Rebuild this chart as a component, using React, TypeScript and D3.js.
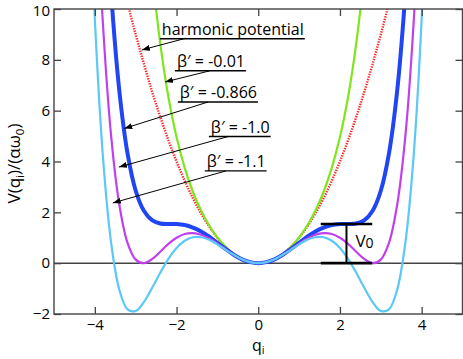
import React from 'react'
import * as d3 from 'd3'

// q grid shared by every curve
const qValues = [
  -4.2, -4, -3.8, -3.6, -3.4, -3.2, -3, -2.8, -2.6, -2.4, -2.2, -2, -1.8, -1.6, -1.4, -1.2, -1, -0.8, -0.6, -0.4, -0.2,
  0, 0.2, 0.4, 0.6, 0.8, 1, 1.2, 1.4, 1.6, 1.8, 2, 2.2, 2.4, 2.6, 2.8, 3, 3.2, 3.4, 3.6, 3.8, 4, 4.2
]

// V(q)/(alpha w0)
const harmonic = [
  17.64, 16, 14.44, 12.96, 11.56, 10.24, 9, 7.84, 6.76, 5.76, 4.84, 4, 3.24, 2.56, 1.96, 1.44, 1, 0.64, 0.36, 0.16, 0.04,
  0, 0.04, 0.16, 0.36, 0.64, 1, 1.44, 1.96, 2.56, 3.24, 4, 4.84, 5.76, 6.76, 7.84, 9, 10.24, 11.56, 12.96, 14.44, 16, 17.64
]
const beta001 = [
  102.63, 79.36, 60.97, 46.55, 35.36, 26.76, 20.19, 15.22, 11.47, 8.66, 6.55, 4.96, 3.75, 2.81, 2.07, 1.48, 1.01, 0.64, 0.36, 0.16, 0.04,
  0, 0.04, 0.16, 0.36, 0.64, 1.01, 1.48, 2.07, 2.81, 3.75, 4.96, 6.55, 8.66, 11.47, 15.22, 20.19, 26.76, 35.36, 46.55, 60.97, 79.36, 102.63
]
const beta0866 = [
  36.04, 24.58, 16.34, 10.61, 6.77, 4.32, 2.85, 2.06, 1.69, 1.56, 1.54, 1.54, 1.5, 1.4, 1.25, 1.04, 0.8, 0.56, 0.33, 0.15, 0.04,
  0, 0.04, 0.15, 0.33, 0.56, 0.8, 1.04, 1.25, 1.4, 1.5, 1.54, 1.54, 1.56, 1.69, 2.06, 2.85, 4.32, 6.77, 10.61, 16.34, 24.58, 36.04
]
const beta10 = [
  25.62, 16, 9.36, 4.98, 2.29, 0.8, 0.14, 0, 0.16, 0.45, 0.76, 1, 1.15, 1.18, 1.12, 0.97, 0.77, 0.54, 0.33, 0.15, 0.04,
  0, 0.04, 0.15, 0.33, 0.54, 0.77, 0.97, 1.12, 1.18, 1.15, 1, 0.76, 0.45, 0.16, 0, 0.14, 0.8, 2.29, 4.98, 9.36, 16, 25.62
]
const beta11 = [
  17.84, 9.6, 4.14, 0.78, -1.05, -1.82, -1.88, -1.53, -0.98, -0.38, 0.17, 0.6, 0.88, 1.02, 1.02, 0.92, 0.74, 0.53, 0.33, 0.15, 0.04,
  0, 0.04, 0.15, 0.33, 0.53, 0.74, 0.92, 1.02, 1.02, 0.88, 0.6, 0.17, -0.38, -0.98, -1.53, -1.88, -1.82, -1.05, 0.78, 4.14, 9.6, 17.84
]

const xTicks = [-4, -2, 0, 2, 4]
const yTicks = [-2, 0, 2, 4, 6, 8, 10]

// annotation labels, with where they sit and where the arrows point (data units)
const annoText = ['harmonic potential', 'β′ = -0.01', 'β′ = -0.866', 'β′ = -1.0', 'β′ = -1.1']
const annoAt = [[-2.36, 8.97], [-1.99, 7.71], [-1.92, 6.48], [-1.16, 5.12], [-1.26, 3.77]]
const arrowFrom = [[-1.77, 8.85], [-1.18, 7.57], [-1.23, 6.34], [-0.74, 4.98], [-0.79, 3.63]]
const arrowTo = [[-2.85, 8.39], [-2.28, 7.13], [-3.28, 5.3], [-3.41, 3.78], [-3.56, 2.37]]

// V0 barrier marker
const v0Height = 1.54
const v0Span = [1.53, 2.16, 2.79]

const FONT = '"Open Sans", "DejaVu Sans", sans-serif'

class App extends React.Component {
  node: SVGSVGElement | null = null

  componentDidMount() {
    this.renderChart()
  }

  componentDidUpdate() {
    this.renderChart()
  }

  renderChart() {
    const svg = d3.select(this.node)
    svg.selectAll('*').remove()

    const x = d3.scaleLinear().domain([-5, 5]).range([54, 462.5])
    const y = d3.scaleLinear().domain([-2, 10]).range([314, 9])

    const defs = svg.append('defs')
    defs
      .append('clipPath')
      .attr('id', 'plot-clip')
      .append('rect')
      .attr('x', x(-5))
      .attr('y', y(10))
      .attr('width', x(5) - x(-5))
      .attr('height', y(-2) - y(10))

    defs
      .append('marker')
      .attr('id', 'arrow')
      .attr('viewBox', '0 0 8 6')
      .attr('refX', 8)
      .attr('refY', 3)
      .attr('markerWidth', 8)
      .attr('markerHeight', 6)
      .attr('markerUnits', 'userSpaceOnUse')
      .attr('orient', 'auto')
      .append('path')
      .attr('d', 'M0,0 L8,3 L0,6 Z')
      .attr('fill', '#000')

    // zero line
    svg
      .append('line')
      .attr('x1', x(-5))
      .attr('x2', x(5))
      .attr('y1', y(0))
      .attr('y2', y(0))
      .attr('stroke', '#444')
      .attr('stroke-width', 1.5)

    // CURVES
    const series = [
      { values: harmonic, color: '#ff2a2a', width: 2.4, dash: '1.4,1.2' },
      { values: beta001, color: '#7fe61e', width: 2.2, dash: null },
      { values: beta0866, color: '#1f45f5', width: 4, dash: null },
      { values: beta10, color: '#c040f0', width: 2.2, dash: null },
      { values: beta11, color: '#5bc8f7', width: 2.2, dash: null }
    ]

    const line = d3
      .line<number>()
      .x((d, i) => x(qValues[i]))
      .y(d => y(d))
      .curve(d3.curveCatmullRom.alpha(0.5))

    const curves = svg.append('g').attr('clip-path', 'url(#plot-clip)')
    series.forEach(s => {
      curves
        .append('path')
        .attr('d', line(s.values))
        .attr('fill', 'none')
        .attr('stroke', s.color)
        .attr('stroke-width', s.width)
        .attr('stroke-dasharray', s.dash)
    })

    // FRAME + inward ticks on all four sides
    const tickStyle = (g: any) => {
      g.select('.domain').remove()
      g.selectAll('.tick line').attr('stroke', '#444').attr('stroke-width', 1.3)
      g.selectAll('.tick text')
        .attr('fill', '#000')
        .attr('font-family', FONT)
        .attr('font-size', 15)
    }

    svg
      .append('g')
      .attr('transform', `translate(0,${y(-2)})`)
      .call(d3.axisBottom(x).tickValues(xTicks).tickSizeInner(-7).tickSizeOuter(0).tickPadding(5).tickFormat(d3.format('d')))
      .call(tickStyle)
    svg
      .append('g')
      .attr('transform', `translate(0,${y(10)})`)
      .call(d3.axisTop(x).tickValues(xTicks).tickSizeInner(-7).tickSizeOuter(0).tickFormat(() => ''))
      .call(tickStyle)
    svg
      .append('g')
      .attr('transform', `translate(${x(-5)},0)`)
      .call(d3.axisLeft(y).tickValues(yTicks).tickSizeInner(-7).tickSizeOuter(0).tickPadding(4).tickFormat(d3.format('d')))
      .call(tickStyle)
    svg
      .append('g')
      .attr('transform', `translate(${x(5)},0)`)
      .call(d3.axisRight(y).tickValues(yTicks).tickSizeInner(-7).tickSizeOuter(0).tickFormat(() => ''))
      .call(tickStyle)

    // keep the top "10" label inside the picture
    svg.selectAll('.tick text').filter((d: any) => d === 10).attr('dy', '0.45em')

    svg
      .append('rect')
      .attr('x', x(-5))
      .attr('y', y(10))
      .attr('width', x(5) - x(-5))
      .attr('height', y(-2) - y(10))
      .attr('fill', 'none')
      .attr('stroke', '#444')
      .attr('stroke-width', 1.4)

    // AXIS TITLES
    const xt = svg
      .append('text')
      .attr('x', x(0))
      .attr('y', 351)
      .attr('text-anchor', 'middle')
      .attr('font-family', FONT)
      .attr('font-size', 16)
    xt.append('tspan').text('q')
    xt.append('tspan').attr('font-size', 11).attr('dy', 3).text('i')

    const yt = svg
      .append('text')
      .attr('transform', `translate(20,${(y(10) + y(-2)) / 2 + 2}) rotate(-90)`)
      .attr('text-anchor', 'middle')
      .attr('font-family', FONT)
      .attr('font-size', 17)
    yt.append('tspan').text('V(q')
    yt.append('tspan').attr('font-size', 11.5).attr('dy', 4).text('i')
    yt.append('tspan').attr('dy', -4).text(')/(αω')
    yt.append('tspan').attr('font-size', 11.5).attr('dy', 4).text('0')
    yt.append('tspan').attr('dy', -4).text(')')

    // ANNOTATIONS
    annoText.forEach((t, i) => {
      const tx = x(annoAt[i][0])
      const ty = y(annoAt[i][1])
      const label = svg
        .append('text')
        .attr('x', tx)
        .attr('y', ty)
        .attr('font-family', FONT)
        .attr('font-size', 16)
        .text(t)
      const len = (label.node() as SVGTextElement).getComputedTextLength()
      svg
        .append('line')
        .attr('x1', tx - 2)
        .attr('x2', tx + len + 1)
        .attr('y1', ty + 3.5)
        .attr('y2', ty + 3.5)
        .attr('stroke', '#000')
        .attr('stroke-width', 1.4)
      svg
        .append('line')
        .attr('x1', x(arrowFrom[i][0]))
        .attr('y1', y(arrowFrom[i][1]))
        .attr('x2', x(arrowTo[i][0]))
        .attr('y2', y(arrowTo[i][1]))
        .attr('stroke', '#000')
        .attr('stroke-width', 1)
        .attr('marker-end', 'url(#arrow)')
    })

    // V0 bracket
    const br = svg.append('g').attr('stroke', '#000').attr('stroke-width', 2.6)
    br.append('line').attr('x1', x(v0Span[0])).attr('x2', x(v0Span[2])).attr('y1', y(v0Height)).attr('y2', y(v0Height))
    br.append('line').attr('x1', x(v0Span[0])).attr('x2', x(v0Span[2])).attr('y1', y(0)).attr('y2', y(0))
    br.append('line').attr('x1', x(v0Span[1])).attr('x2', x(v0Span[1])).attr('y1', y(v0Height)).attr('y2', y(0)).attr('stroke-width', 2)

    const v0 = svg
      .append('text')
      .attr('x', x(2.38))
      .attr('y', y(0.64))
      .attr('font-family', FONT)
      .attr('font-size', 17)
    v0.append('tspan').text('V')
    v0.append('tspan').attr('font-size', 14).attr('dy', 1).text('0')
  }

  render() {
    return (
      <svg
        ref={node => {
          this.node = node
        }}
        width={463}
        height={359}
        style={{ position: 'absolute', left: 0, top: 0, background: '#fff' }}
      />
    )
  }
}

export default App
